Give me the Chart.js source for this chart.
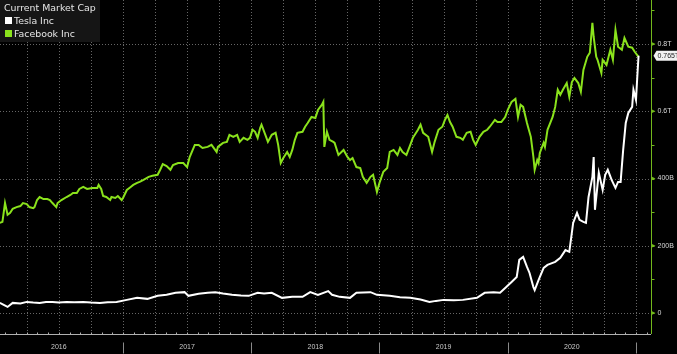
<!DOCTYPE html>
<html>
<head>
<meta charset="utf-8">
<script src="https://cdn.jsdelivr.net/npm/chart.js@4/dist/chart.umd.min.js"></script>
<style>
  html, body { margin: 0; padding: 0; background: #000; overflow: hidden; }
  #wrap { width: 677px; height: 354px; position: relative; }
</style>
</head>
<body>
<div id="wrap"><canvas id="cap"></canvas></div>
<script>
// Market cap in billions USD, dates as decimal years
const fbYears = [
  2016.04, 2016.06, 2016.08, 2016.10, 2016.12, 2016.14, 2016.17, 2016.20, 2016.22, 2016.25,
  2016.27, 2016.30, 2016.31, 2016.33, 2016.35, 2016.38, 2016.41, 2016.43, 2016.45, 2016.48,
  2016.49, 2016.52, 2016.56, 2016.59, 2016.61, 2016.64, 2016.66, 2016.69, 2016.72, 2016.76,
  2016.80, 2016.81, 2016.83, 2016.845, 2016.87, 2016.90, 2016.91, 2016.94, 2016.96, 2016.99,
  2017.00, 2017.03, 2017.06, 2017.08, 2017.11, 2017.13, 2017.16, 2017.20, 2017.23, 2017.27,
  2017.29, 2017.31, 2017.34, 2017.37, 2017.39, 2017.43, 2017.47, 2017.50, 2017.52, 2017.56,
  2017.59, 2017.62, 2017.66, 2017.69, 2017.73, 2017.74, 2017.78, 2017.81, 2017.83, 2017.86,
  2017.89, 2017.91, 2017.94, 2017.97, 2017.99, 2018.01, 2018.03, 2018.05, 2018.07, 2018.08,
  2018.11, 2018.13, 2018.16, 2018.19, 2018.21, 2018.23, 2018.25, 2018.28, 2018.30, 2018.32,
  2018.34, 2018.36, 2018.40, 2018.42, 2018.44, 2018.47, 2018.50, 2018.52, 2018.55, 2018.562,
  2018.57, 2018.59, 2018.61, 2018.64, 2018.65, 2018.68, 2018.72, 2018.75, 2018.77, 2018.79,
  2018.82, 2018.85, 2018.87, 2018.90, 2018.93, 2018.95, 2018.98, 2019.00, 2019.03, 2019.06,
  2019.08, 2019.11, 2019.14, 2019.16, 2019.18, 2019.21, 2019.24, 2019.26, 2019.30, 2019.32,
  2019.34, 2019.38, 2019.41, 2019.43, 2019.46, 2019.49, 2019.51, 2019.53, 2019.55, 2019.57,
  2019.60, 2019.63, 2019.65, 2019.68, 2019.71, 2019.73, 2019.75, 2019.78, 2019.81, 2019.84,
  2019.86, 2019.90, 2019.92, 2019.95, 2019.98, 2020.00, 2020.03, 2020.06, 2020.08, 2020.10,
  2020.12, 2020.15, 2020.16, 2020.18, 2020.20, 2020.21, 2020.23, 2020.24, 2020.25, 2020.28,
  2020.29, 2020.31, 2020.35, 2020.37, 2020.39, 2020.41, 2020.43, 2020.46, 2020.48, 2020.50,
  2020.52, 2020.55, 2020.57, 2020.59, 2020.62, 2020.64, 2020.66, 2020.67, 2020.69, 2020.70,
  2020.73, 2020.74, 2020.77, 2020.80, 2020.82, 2020.84, 2020.86, 2020.89, 2020.91, 2020.94,
  2020.97, 2020.99, 2021.02
];
const fbValues = [
  268, 271, 327, 292, 298, 310, 315, 318, 327, 324,
  315, 312, 315, 336, 345, 339, 339, 336, 327, 315,
  327, 336, 345, 351, 357, 357, 369, 375, 369, 372,
  372, 381, 369, 348, 345, 336, 345, 342, 348, 336,
  342, 366, 375, 381, 387, 390, 396, 405, 408, 411,
  426, 443, 437, 426, 440, 446, 446, 434, 464, 500,
  500, 491, 494, 500, 479, 494, 506, 509, 530, 524,
  530, 509, 521, 515, 521, 545, 539, 521, 551, 560,
  530, 509, 530, 536, 500, 446, 461, 479, 464, 485,
  515, 536, 539, 554, 565, 583, 580, 604, 619, 628,
  494, 539, 515, 509, 506, 470, 485, 464, 455, 461,
  434, 431, 405, 387, 405, 411, 360, 387, 420, 431,
  479, 485, 470, 491, 479, 470, 500, 521, 545, 560,
  536, 524, 479, 509, 545, 554, 574, 589, 568, 554,
  524, 521, 515, 536, 539, 515, 500, 524, 539, 545,
  554, 574, 568, 568, 583, 604, 628, 637, 583, 619,
  613, 565, 551, 524, 464, 426, 455, 446, 476, 506,
  494, 545, 583, 613, 664, 649, 664, 684, 643, 687,
  699, 684, 658, 723, 762, 774, 863, 821, 762, 753,
  714, 753, 738, 783, 753, 842, 792, 783, 818, 792,
  789, 777, 762
];

const tslaYears = [
  2016.04, 2016.07, 2016.10, 2016.14, 2016.20, 2016.25, 2016.30, 2016.35, 2016.40, 2016.45,
  2016.50, 2016.56, 2016.62, 2016.69, 2016.75, 2016.82, 2016.88, 2016.95, 2017.03, 2017.11,
  2017.19, 2017.27, 2017.34, 2017.41, 2017.48, 2017.51, 2017.59, 2017.66, 2017.72, 2017.78,
  2017.85, 2017.92, 2017.98, 2018.05, 2018.10, 2018.16, 2018.24, 2018.32, 2018.40, 2018.46,
  2018.52, 2018.60, 2018.63, 2018.69, 2018.77, 2018.82, 2018.93, 2018.98, 2019.08, 2019.16,
  2019.24, 2019.32, 2019.39, 2019.44, 2019.50, 2019.58, 2019.65, 2019.76, 2019.82, 2019.89,
  2019.94, 2019.98, 2020.03, 2020.07, 2020.09, 2020.12, 2020.15, 2020.17, 2020.20, 2020.21,
  2020.24, 2020.28, 2020.31, 2020.37, 2020.41, 2020.45, 2020.48, 2020.51, 2020.54, 2020.56,
  2020.59, 2020.61, 2020.63, 2020.66, 2020.67, 2020.68, 2020.71, 2020.74, 2020.76, 2020.78,
  2020.81, 2020.84, 2020.86, 2020.88, 2020.90, 2020.92, 2020.94, 2020.97, 2020.98, 2021.00,
  2021.01, 2021.02
];
const tslaValues = [
  30, 24, 18, 30, 28, 33, 31, 30, 33, 33,
  31, 33, 32, 33, 31, 30, 32, 33, 39, 45,
  42, 51, 54, 60, 62, 51, 57, 60, 62, 58,
  54, 52, 51, 60, 58, 60, 45, 48, 48, 62,
  54, 65, 54, 48, 45, 60, 62, 54, 51, 47,
  45, 40, 33, 36, 39, 38, 39, 45, 60, 62,
  60, 74, 92, 107, 158, 167, 137, 119, 77, 68,
  98, 134, 143, 152, 164, 187, 182, 268, 298, 277,
  271, 268, 345, 405, 464, 307, 417, 366, 411, 426,
  396, 372, 390, 390, 485, 565, 595, 613, 664, 634,
  702, 765
];

const yearLabels = ['2016', '2017', '2018', '2019', '2020'];
const yTicks = [0, 200, 400, 600, 800];
const yTickLabels = ['0', '200B', '400B', '0.6T', '0.8T'];
const legendTitle = 'Current Market Cap';
const seriesNames = ['Tesla Inc', 'Facebook Inc'];

const GREEN = '#8ae21c';
const AXIS_GREEN = '#72b81c';

const toPts = (xs, ys) => xs.map((v, i) => ({ x: v, y: ys[i] }));

const quarters = [];
for (let q = 2016.25; q <= 2021.001; q += 0.25) quarters.push(q);

const chrome = {
  id: 'chrome',
  beforeDatasetsDraw(chart) {
    const { ctx, chartArea: a, scales: { x, y } } = chart;
    ctx.save();
    ctx.strokeStyle = '#666666';
    ctx.lineWidth = 1;
    ctx.setLineDash([1, 2]);
    quarters.forEach(q => {
      const px = Math.round(x.getPixelForValue(q)) + 0.5;
      ctx.beginPath(); ctx.moveTo(px, a.top); ctx.lineTo(px, a.bottom); ctx.stroke();
    });
    yTicks.forEach(v => {
      const py = Math.round(y.getPixelForValue(v)) + 0.5;
      ctx.beginPath(); ctx.moveTo(a.left, py); ctx.lineTo(a.right, py); ctx.stroke();
    });
    ctx.restore();
  },
  afterDraw(chart) {
    const { ctx, chartArea: a, scales: { x, y } } = chart;
    ctx.save();

    // bottom axis
    const by = a.bottom + 0.5;
    ctx.strokeStyle = '#b0b0b0';
    ctx.lineWidth = 1;
    ctx.beginPath(); ctx.moveTo(a.left, by); ctx.lineTo(a.right, by); ctx.stroke();
    for (let m = 0; m <= 61; m++) {
      const px = Math.round(x.getPixelForValue(2016 + m / 12)) + 0.5;
      if (px < a.left || px > a.right) continue;
      ctx.beginPath(); ctx.moveTo(px, by - 2); ctx.lineTo(px, by); ctx.stroke();
    }
    ctx.strokeStyle = '#8a8a8a';
    for (let yr = 2017; yr <= 2021; yr++) {
      const px = Math.round(x.getPixelForValue(yr)) + 0.5;
      ctx.beginPath(); ctx.moveTo(px, by + 8); ctx.lineTo(px, by + 19); ctx.stroke();
    }
    ctx.fillStyle = '#c8c8c8';
    ctx.font = '7px "Liberation Sans"';
    ctx.textAlign = 'center';
    ctx.textBaseline = 'middle';
    yearLabels.forEach(lbl => {
      const yr = +lbl;
      const px = x.getPixelForValue(yr + 0.5);
      ctx.fillText(lbl, px, by + 13);
    });

    // right axis
    const rx = a.right + 0.5;
    ctx.strokeStyle = AXIS_GREEN;
    ctx.beginPath(); ctx.moveTo(rx, a.top); ctx.lineTo(rx, a.bottom); ctx.stroke();
    for (let v = 0; v <= 900; v += 100) {
      const py = Math.round(y.getPixelForValue(v)) + 0.5;
      ctx.beginPath(); ctx.moveTo(rx, py); ctx.lineTo(rx + 3, py); ctx.stroke();
    }
    ctx.fillStyle = AXIS_GREEN;
    yTicks.forEach(v => {
      const py = y.getPixelForValue(v);
      ctx.beginPath(); ctx.moveTo(rx, py - 2); ctx.lineTo(rx + 4, py); ctx.lineTo(rx, py + 2); ctx.fill();
    });
    ctx.fillStyle = '#d8d8d8';
    ctx.textAlign = 'left';
    yTicks.forEach((v, i) => {
      ctx.fillText(yTickLabels[i], rx + 6, y.getPixelForValue(v));
    });

    // last value tag
    const last = tslaValues[tslaValues.length - 1];
    const ty = y.getPixelForValue(last);
    ctx.fillStyle = '#f2f2f2';
    ctx.beginPath();
    ctx.moveTo(rx + 2, ty);
    ctx.lineTo(rx + 5, ty - 5);
    ctx.lineTo(677, ty - 5);
    ctx.lineTo(677, ty + 5);
    ctx.lineTo(rx + 5, ty + 5);
    ctx.closePath();
    ctx.fill();
    ctx.fillStyle = '#222';
    ctx.fillText((last / 1000).toFixed(3) + 'T', rx + 6, ty + 0.5);

    // legend box
    ctx.fillStyle = '#151515';
    ctx.fillRect(0, 0, 100, 42);
    ctx.font = '9.4px "DejaVu Sans"';
    ctx.textBaseline = 'alphabetic';
    ctx.fillStyle = '#e6e6e6';
    ctx.fillText(legendTitle, 4, 11);
    ctx.fillStyle = '#ffffff';
    ctx.fillRect(5, 17, 7, 7);
    ctx.fillStyle = GREEN;
    ctx.fillRect(5, 30, 7, 7);
    ctx.fillStyle = '#e6e6e6';
    ctx.fillText(seriesNames[0], 14, 24);
    ctx.fillText(seriesNames[1], 14, 37);

    ctx.restore();
  }
};

new Chart(document.getElementById('cap'), {
  type: 'line',
  data: {
    datasets: [
      {
        label: seriesNames[0],
        data: toPts(tslaYears, tslaValues),
        borderColor: '#ffffff',
        borderWidth: 2,
        pointRadius: 0,
        tension: 0,
        order: 0
      },
      {
        label: seriesNames[1],
        data: toPts(fbYears, fbValues),
        borderColor: GREEN,
        borderWidth: 2,
        pointRadius: 0,
        tension: 0,
        order: 1
      }
    ]
  },
  options: {
    responsive: true,
    maintainAspectRatio: false,
    animation: false,
    layout: { padding: 0 },
    plugins: { legend: { display: false }, tooltip: { enabled: false } },
    scales: {
      x: {
        type: 'linear',
        min: 2016.041,
        max: 2021.117,
        grid: { display: false },
        border: { display: false },
        ticks: { display: false },
        afterFit: axis => { axis.height = 20; }
      },
      y: {
        position: 'right',
        min: -62.5,
        max: 931,
        grid: { display: false },
        border: { display: false },
        ticks: { display: false },
        afterFit: axis => { axis.width = 26; }
      }
    }
  },
  plugins: [chrome]
});
</script>
</body>
</html>
